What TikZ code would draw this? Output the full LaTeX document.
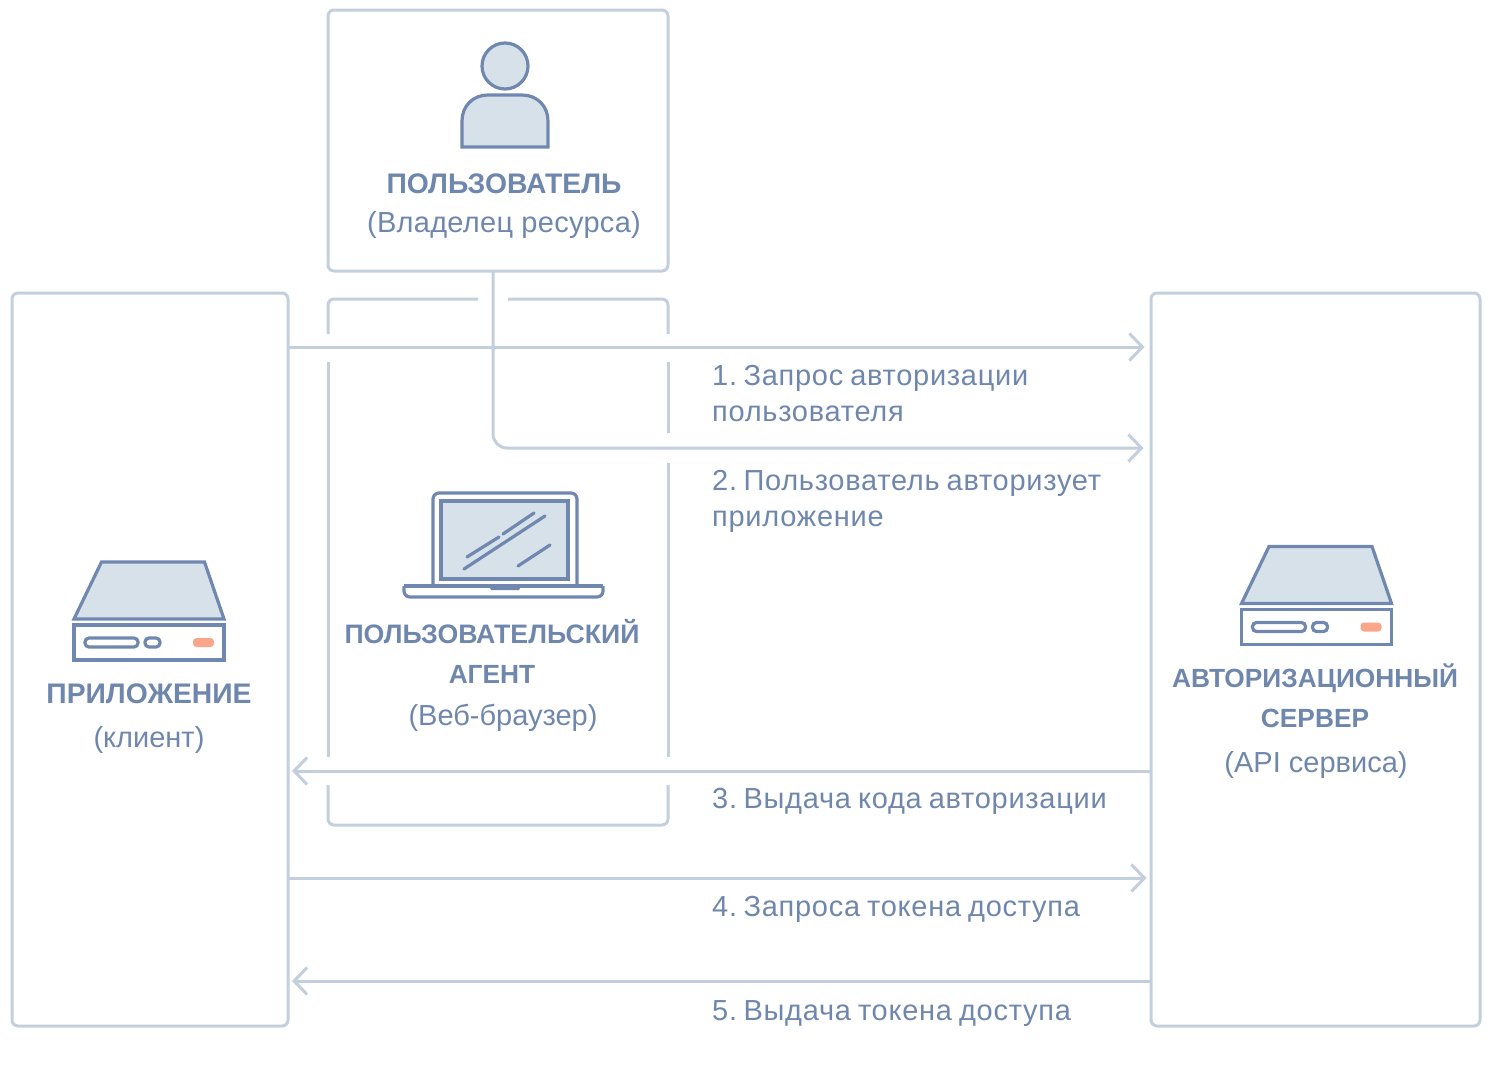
\documentclass[tikz,border=0pt]{standalone}
\usepackage{fontspec}
\setmainfont{Liberation Sans}
\newfontfamily\spaced[LetterSpace=1.0]{Liberation Sans}
\newfontfamily\stepfont[LetterSpace=2.5,WordSpace=0.8]{Liberation Sans}
\usetikzlibrary{arrows.meta,calc}
\definecolor{linec}{HTML}{C3CFDD}
\definecolor{iconc}{HTML}{7088AF}
\definecolor{fillc}{HTML}{D6E1EA}
\definecolor{textc}{HTML}{6F87AD}
\definecolor{orangec}{HTML}{FBA68A}
\newcommand{\stepno}[1]{#1.\hspace{-3.5pt} }
\tikzset{
  box/.style={draw=linec,line width=3pt,rounded corners=6pt,inner sep=0pt,outer sep=0pt,anchor=north west},
  wire/.style={draw=linec,line width=3pt},
  flow/.style={wire,-{Straight Barb[length=13pt,width=27pt,line width=3pt]}},
  icon/.style={draw=iconc,line width=3.2pt,line join=miter},
  glass/.style={draw=iconc,line width=3.2pt,line cap=round},
  lab/.style={text=textc,anchor=base,font=\fontsize{29}{29}\selectfont,inner sep=0pt},
  wlab/.style={lab,font=\spaced\fontsize{29}{29}\selectfont},
  hlab/.style={lab,font=\fontsize{28.3}{28}\selectfont\bfseries},
  hlabs/.style={lab,font=\fontsize{26.3}{28}\selectfont\bfseries},
  hlabw/.style={lab,font=\fontsize{26.7}{28}\selectfont\bfseries},
  step label/.style={lab,anchor=base west,font=\stepfont\fontsize{29}{29}\selectfont},
  pics/srv/.style={code={
    \draw[icon,fill=fillc] (-47.5,-57) -- (55.5,-57) -- (75,0) -- (-75,0) -- cycle;
    \draw[icon] (-75,6) rectangle (75,41);
    \draw[icon,rounded corners=4pt] (-64,19) rectangle (-11,28);
    \draw[icon,rounded corners=4pt] (-4,19) rectangle (11,28);
    \fill[orangec,rounded corners=3.5pt] (44,19) rectangle (65,28);
  }}
}
\begin{document}
\begin{tikzpicture}[x=1pt,y=-1pt]
\useasboundingbox (0,0) rectangle (1491,1068);
% boxes
\node[box,minimum width=340pt,minimum height=261pt] (user) at (328,10) {};
\node[box,minimum width=276pt,minimum height=733pt] (app) at (12,293) {};
\node[box,minimum width=329pt,minimum height=733pt] (srv) at (1151,293) {};
% broken agent frame
\draw[wire,rounded corners=6pt] (478,299) -- (328,299) -- (328,334);
\draw[wire,rounded corners=6pt] (508,299) -- (668,299) -- (668,334);
\draw[wire] (328,362) -- (328,757);
\draw[wire] (668,362) -- (668,433);
\draw[wire] (668,463) -- (668,757);
\draw[wire,rounded corners=6pt] (328,785) -- (328,825) -- (668,825) -- (668,785);
% connector levels
\coordinate (l1) at (0,347);
\coordinate (l2) at (493,448);
\coordinate (l3) at (0,771);
\coordinate (l4) at (0,878);
\coordinate (l5) at (0,981);
\draw[flow,shorten >=6.5pt] (app.east |- l1) -- (srv.west |- l1);
\draw[flow,rounded corners=14pt,shorten >=7.5pt] (user.south -| l2) -- (l2) -- (srv.west |- l2);
\draw[flow,shorten >=4pt] (srv.west |- l3) -- (app.east |- l3);
\draw[flow,shorten >=4.5pt] (app.east |- l4) -- (srv.west |- l4);
\draw[flow,shorten >=4pt] (srv.west |- l5) -- (app.east |- l5);
% person
\draw[icon,fill=fillc] (505,66) circle (23);
\draw[icon,fill=fillc] (462,147) -- (462,121) .. controls (462,106) and (473,95) .. (488,95) -- (522,95) .. controls (537,95) and (548,106) .. (548,121) -- (548,147) -- cycle;
% laptop
\draw[icon,rounded corners=6pt] (433,586) -- (433,493) -- (577,493) -- (577,586);
\draw[icon,fill=fillc] (441,501) rectangle (568,579);
\draw[icon,rounded corners=6pt] (404,586) -- (404,597) -- (603,597) -- (603,586);
\draw[draw=iconc,line width=3.2pt] (404,586) -- (603,586);
\fill[iconc] (489,586) -- (521,586) -- (519,590) -- (491,590) -- cycle;
\draw[glass] (467,557) -- (499,537);
\draw[glass] (503,534) -- (534,513);
\draw[glass] (464,569) -- (545,516);
\draw[glass] (518,566) -- (550,545);
% servers
\pic at (149,619) {srv};
\pic at (1316.5,603.5) {srv};
% labels
\node[hlab] (t1) at (504,193) {ПОЛЬЗОВАТЕЛЬ};
\node[wlab] (t2) at (504,232) {(Владелец ресурса)};
\node[hlabw] (t3) at (492,643) {ПОЛЬЗОВАТЕЛЬСКИЙ};
\node[hlabs] (t4) at (492,683) {АГЕНТ};
\node[lab] (t5) at (503,725) {(Веб-браузер)};
\node[hlab] (t6) at (149,703) {ПРИЛОЖЕНИЕ};
\node[lab] (t7) at (149,747) {(клиент)};
\node[hlabs] (t8) at (1315,687) {АВТОРИЗАЦИОННЫЙ};
\node[hlabs] (t9) at (1315,727) {СЕРВЕР};
\node[lab] (t10) at (1316,772) {(API сервиса)};
\node[step label] (s1a) at (712,385) {\stepno{1}Запрос авторизации};
\node[step label] (s1b) at (712,421) {пользователя};
\node[step label] (s2a) at (712,490) {\stepno{2}Пользователь авторизует};
\node[step label] (s2b) at (712,526) {приложение};
\node[step label] (s3) at (712,808) {\stepno{3}Выдача кода авторизации};
\node[step label] (s4) at (712,916) {\stepno{4}Запроса токена доступа};
\node[step label] (s5) at (712,1020) {\stepno{5}Выдача токена доступа};
\end{tikzpicture}
\end{document}
